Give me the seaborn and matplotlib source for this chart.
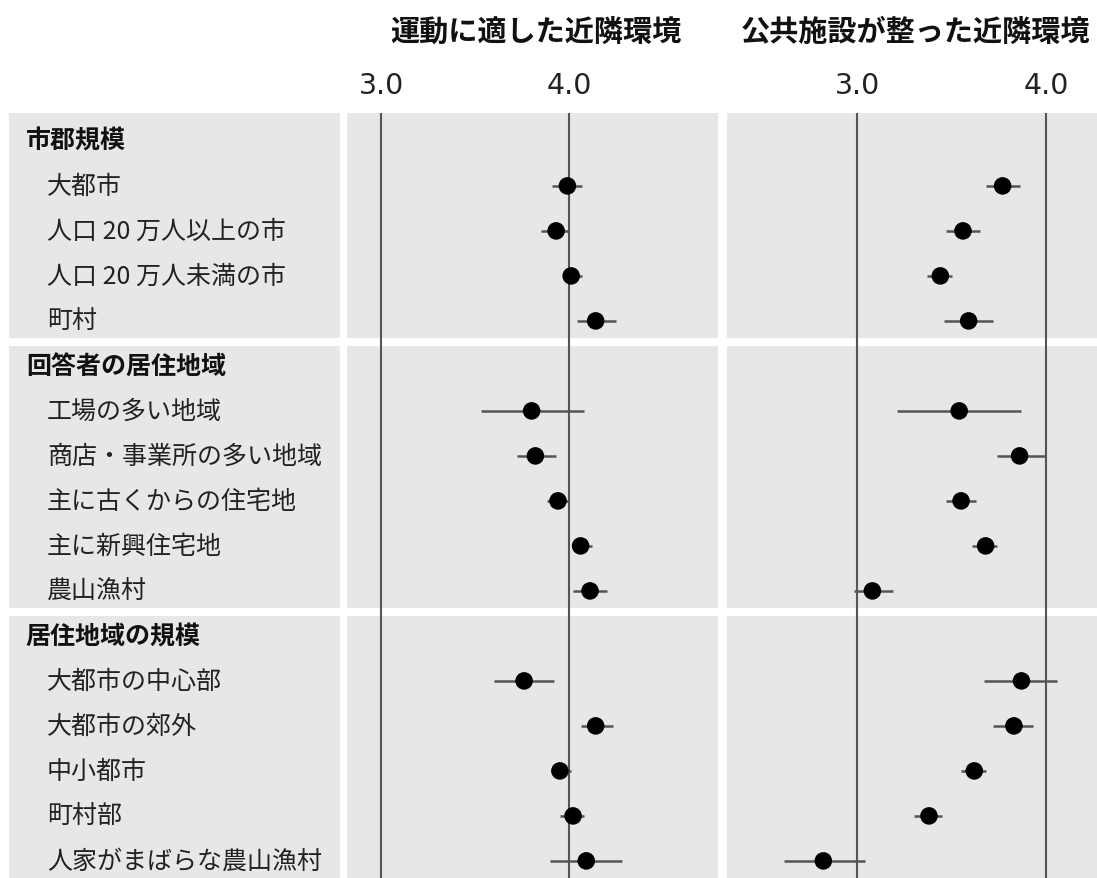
import numpy as np
import matplotlib
matplotlib.use('Agg')
import matplotlib.pyplot as plt
import pandas as pd
import seaborn as sns

sns.set_style('white')
plt.rcParams['font.family'] = ['Noto Sans CJK JP', 'DejaVu Sans']

# Data
groups = ['市郡規模', '回答者の居住地域', '居住地域の規模']
items = [
    ['大都市', '人口 20 万人以上の市', '人口 20 万人未満の市', '町村'],
    ['工場の多い地域', '商店・事業所の多い地域', '主に古くからの住宅地', '主に新興住宅地', '農山漁村'],
    ['大都市の中心部', '大都市の郊外', '中小都市', '町村部', '人家がまばらな農山漁村'],
]
panel_titles = ['運動に適した近隣環境', '公共施設が整った近隣環境']

sport_mean = [3.99, 3.93, 4.01, 4.14,
              3.80, 3.82, 3.94, 4.06, 4.11,
              3.76, 4.14, 3.95, 4.02, 4.09]
sport_lo = [3.91, 3.85, 3.97, 4.04,
            3.53, 3.72, 3.88, 4.02, 4.02,
            3.60, 4.06, 3.91, 3.95, 3.90]
sport_hi = [4.07, 4.00, 4.07, 4.25,
            4.08, 3.93, 4.00, 4.12, 4.20,
            3.92, 4.23, 4.01, 4.08, 4.28]

public_mean = [3.77, 3.56, 3.44, 3.59,
               3.54, 3.86, 3.55, 3.68, 3.08,
               3.87, 3.83, 3.62, 3.38, 2.82]
public_lo = [3.68, 3.47, 3.37, 3.46,
             3.21, 3.74, 3.47, 3.61, 2.98,
             3.67, 3.72, 3.55, 3.30, 2.61]
public_hi = [3.86, 3.65, 3.50, 3.72,
             3.87, 4.00, 3.63, 3.74, 3.19,
             4.06, 3.93, 3.68, 3.45, 3.04]

tick_vals = [3.0, 4.0]
tick_labels = ['3.0', '4.0']

# Build row table: header rows + item rows
rows = []
for g, its in zip(groups, items):
    rows.append({'label': g, 'header': True})
    for it in its:
        rows.append({'label': it, 'header': False})
rows = pd.DataFrame(rows)
rows['pos'] = np.arange(len(rows))
item_pos = rows.loc[~rows['header'], 'pos'].values

df = pd.DataFrame({
    'pos': item_pos,
    'sport': sport_mean, 'sport_lo': sport_lo, 'sport_hi': sport_hi,
    'public': public_mean, 'public_lo': public_lo, 'public_hi': public_hi,
})

# group bands (in row units)
starts = rows.loc[rows['header'], 'pos'].values
ends = list(starts[1:] - 1) + [len(rows) - 1]
ylim = (len(rows) - 0.62, -0.62)
bands = []
for i, (s, e) in enumerate(zip(starts, ends)):
    top = -0.62 if i == 0 else s - 0.44
    bot = ylim[0] + 1 if i == len(starts) - 1 else e + 0.38
    bands.append((top, bot))

W, H = 1097, 879
fig = plt.figure(figsize=(W / 100, H / 100), dpi=100)
band_color = '#e7e7e7'
line_color = '#555555'

ax_lab = fig.add_axes([9 / W, 0, 331 / W, 765 / H])
ax1 = fig.add_axes([347 / W, 0, 371 / W, 765 / H])
ax2 = fig.add_axes([727 / W, 0, 370 / W, 765 / H])

# label column
for top, bot in bands:
    ax_lab.axhspan(top, bot, color=band_color, lw=0)
for _, r in rows.iterrows():
    if r['header']:
        ax_lab.text(0.051, r['pos'], r['label'], fontsize=18, fontweight='bold',
                    va='center', ha='left', color='#111111')
    else:
        ax_lab.text(0.115, r['pos'], r['label'], fontsize=18,
                    va='center', ha='left', color='#222222')
ax_lab.set_xlim(0, 1)
ax_lab.set_ylim(*ylim)
ax_lab.axis('off')

panels = [(ax1, 'sport', (2.8194, 4.7897)), (ax2, 'public', (2.3095, 4.2703))]
for (ax, col, xlim), title in zip(panels, panel_titles):
    for top, bot in bands:
        ax.axhspan(top, bot, color=band_color, lw=0, zorder=0)
    for v in tick_vals:
        ax.axvline(v, color=line_color, lw=1.5, zorder=1)
    ax.hlines(df['pos'], df[col + '_lo'], df[col + '_hi'], color=line_color, lw=1.8, zorder=2)
    sns.scatterplot(data=df, x=col, y='pos', ax=ax, color='black', s=160,
                    edgecolor='none', zorder=3, legend=False)
    ax.set_xlim(*xlim)
    ax.set_ylim(*ylim)
    ax.xaxis.tick_top()
    ax.set_xticks(tick_vals)
    ax.set_xticklabels(tick_labels, fontsize=20.5, color='#222222', family='DejaVu Sans')
    ax.tick_params(axis='x', length=0, pad=10)
    ax.tick_params(axis='y', left=False, labelleft=False)
    ax.set_xlabel('')
    ax.set_ylabel('')
    for sp in ax.spines.values():
        sp.set_visible(False)
    pos = ax.get_position()
    fig.text(pos.x0 + pos.width / 2 + 3 / W, 1 - 32 / H, title, fontsize=21,
             fontweight='bold', ha='center', va='center', color='#111111')

fig.savefig('out.png', dpi=100, facecolor='white')
